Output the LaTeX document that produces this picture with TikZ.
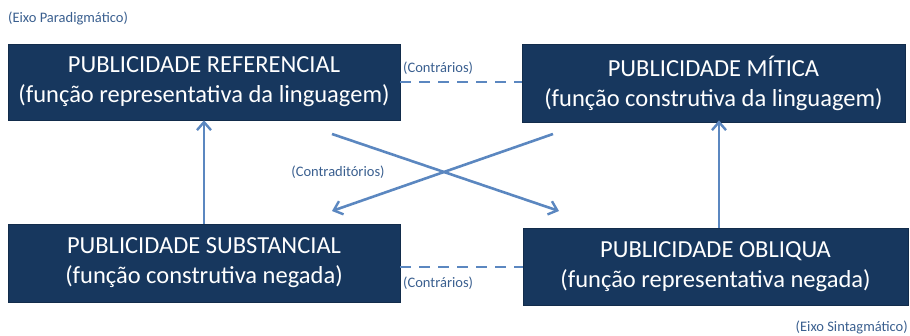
\documentclass[tikz,border=0pt]{standalone}
\usepackage{fontspec}
\setmainfont{Carlito}
\usetikzlibrary{arrows.meta}
\definecolor{boxfill}{HTML}{17375E}
\definecolor{linkblue}{HTML}{5B87C0}
\definecolor{labelblue}{HTML}{3A5F8F}
\tikzset{
  mainbox/.style={draw=boxfill!80!black, line width=0.6pt, fill=boxfill, text=white, align=center,
    font=\fontsize{24.5}{30}\selectfont, inner sep=0pt},
  smalllabel/.style={text=labelblue, font=\fontsize{14.5}{16}\selectfont, inner sep=0pt},
  arrowline/.style={draw=linkblue, line width=2.6pt, -{Straight Barb[length=8pt,width=14pt,line width=2.4pt]}},
  dashline/.style={draw=linkblue, line width=2.8pt, dash pattern=on 11pt off 8pt}
}
\begin{document}
\begin{tikzpicture}[x=1pt,y=-1pt]
\useasboundingbox (0,0) rectangle (910,336);
\node[mainbox, minimum width=392pt, minimum height=76pt] (tl) at (204,82)
  {PUBLICIDADE REFERENCIAL\\(função representativa da linguagem)};
\node[mainbox, minimum width=383pt, minimum height=78pt] (tr) at (713.5,83)
  {PUBLICIDADE MÍTICA\\(função construtiva da linguagem)};
\node[mainbox, minimum width=392pt, minimum height=78pt] (bl) at (204,263)
  {PUBLICIDADE SUBSTANCIAL\\(função construtiva negada)};
\node[mainbox, minimum width=385pt, minimum height=77pt] (br) at (715.5,266.5)
  {PUBLICIDADE OBLIQUA\\(função representativa negada)};

\node[smalllabel, anchor=west] (eixop) at (8,18) {(Eixo Paradigmático)};
\node[smalllabel, anchor=east] (eixos) at (908,327) {(Eixo Sintagmático)};
\node[smalllabel, anchor=west] (ctop) at (403,68) {(Contrários)};
\node[smalllabel, anchor=west] (cbot) at (403,283) {(Contrários)};
\node[smalllabel] (cdiag) at (338,172) {(Contraditórios)};

\draw[dashline] (tl.east |- 0,82) -- (tr.west |- 0,82);
\draw[dashline] (bl.east |- 0,267) -- (br.west |- 0,267);

\draw[arrowline] (bl.north) -- (tl.south);
\draw[arrowline] (br.north -| 719,0) -- (tl.south -| 719,0);

\coordinate (d1s) at (332,134);
\coordinate (d1e) at (559,211);
\coordinate (d2s) at (553,134);
\coordinate (d2e) at (332,211);
\draw[arrowline] (d1s) -- (d1e);
\draw[arrowline] (d2s) -- (d2e);
\end{tikzpicture}
\end{document}
